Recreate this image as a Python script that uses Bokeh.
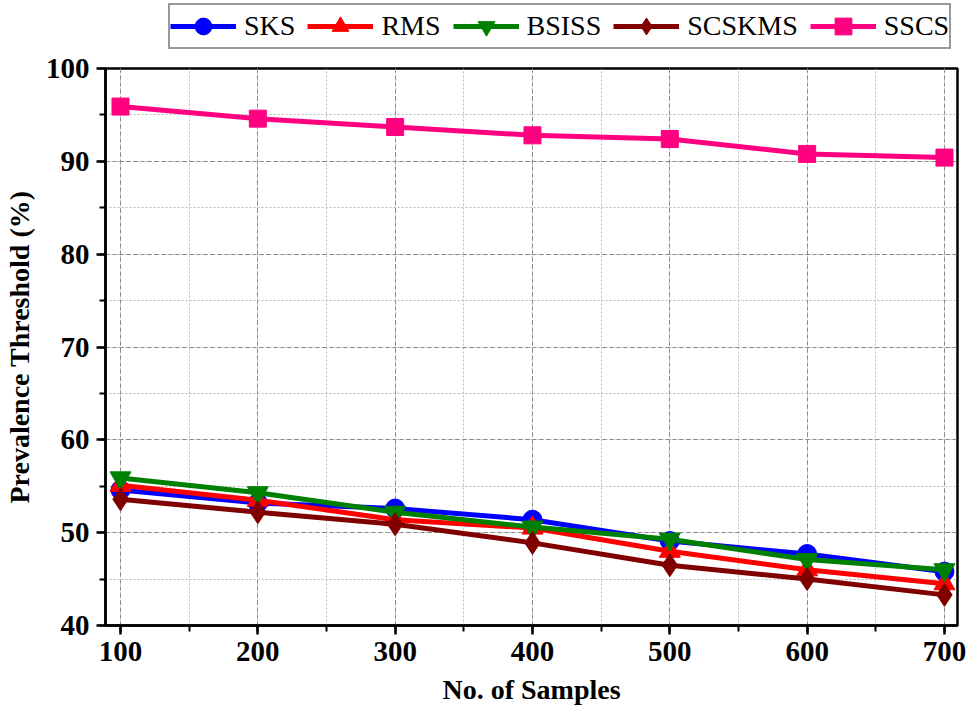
from bokeh.plotting import figure
from bokeh.layouts import column
from bokeh.models import Legend, LegendItem, SingleIntervalTicker
from bokeh.embed import file_html
from bokeh.resources import INLINE

samples = [100, 200, 300, 400, 500, 600, 700]
sks = [54.6, 53.2, 52.6, 51.4, 49.1, 47.7, 45.8]
rms = [55.1, 53.5, 51.4, 50.5, 48.0, 46.0, 44.5]
bsiss = [55.9, 54.3, 52.2, 50.6, 49.3, 47.1, 46.0]
scskms = [53.6, 52.2, 50.9, 48.9, 46.5, 45.0, 43.3]
sscs = [95.9, 94.6, 93.7, 92.8, 92.4, 90.8, 90.4]

names = ["SKS", "RMS", "BSISS", "SCSKMS", "SSCS"]
values = [sks, rms, bsiss, scskms, sscs]
colors = ["#0000ff", "#ff0000", "#008000", "#800000", "#ff0080"]
markers = ["circle", "triangle", "inverted_triangle", "diamond", "square"]
sizes = [19, 21, 21, 23, 17]

FONT = "Liberation Serif"
W = 967
H_TOP = 50
H_MAIN = 666
BL, BR = 105, 10

# ---------- legend strip (top) ----------
top = figure(width=W, height=H_TOP, output_backend="svg", toolbar_location=None,
             x_range=(0, 1), y_range=(0, 1), min_border_left=BL, min_border_right=BR,
             min_border_top=0, min_border_bottom=0)
top.axis.visible = False
top.grid.visible = False
top.outline_line_color = None
top.border_fill_color = "white"
top.background_fill_color = "white"

items = []
for name, color, marker in zip(names, colors, markers):
    l = top.line([-5, -4], [-5, -4], line_color=color, line_width=5)
    s = top.scatter([-5], [-5], marker=marker, fill_color=color, line_color=color)
    items.append(LegendItem(label=name, renderers=[l, s]))

legend = Legend(items=items, orientation="horizontal", location=(168 - BL, 1),
                label_text_font=FONT, label_text_font_size="28px", label_text_color="black",
                glyph_width=66, glyph_height=42, label_standoff=8, spacing=12,
                padding=0, margin=0, border_line_color="#333333", border_line_width=2,
                background_fill_alpha=1, label_height=38)
top.add_layout(legend, "center")

# ---------- main plot ----------
p = figure(width=W, height=H_MAIN, output_backend="svg", toolbar_location=None,
           x_range=(89.08, 709.5), y_range=(40, 100),
           min_border_left=BL, min_border_right=BR, min_border_top=18, min_border_bottom=91)

for vals, color, marker, size in zip(values, colors, markers, sizes):
    p.line(samples, vals, line_color=color, line_width=5)
    p.scatter(samples, vals, marker=marker, size=size, fill_color=color, line_color=color)

p.xaxis.ticker = SingleIntervalTicker(interval=100, num_minor_ticks=2)
p.yaxis.ticker = SingleIntervalTicker(interval=10, num_minor_ticks=2)

for ax in (p.xaxis[0], p.yaxis[0]):
    ax.axis_line_width = 2.5
    ax.axis_line_color = "black"
    ax.major_tick_line_width = 2.5
    ax.minor_tick_line_width = 2
    ax.major_tick_in = 0
    ax.major_tick_out = 9
    ax.minor_tick_in = 0
    ax.minor_tick_out = 6
    ax.major_label_standoff = 7
    ax.major_label_text_font = FONT
    ax.major_label_text_font_style = "bold"
    ax.major_label_text_font_size = "29px"
    ax.major_label_text_color = "black"
    ax.axis_label_text_font = FONT
    ax.axis_label_text_font_style = "bold"
    ax.axis_label_text_font_size = "28px"
    ax.axis_label_text_color = "black"

p.xaxis.axis_label = "No. of Samples"
p.yaxis.axis_label = "Prevalence Threshold (%)"
p.xaxis.axis_label_standoff = 10
p.yaxis.axis_label_standoff = 8

for g in (p.xgrid[0], p.ygrid[0]):
    g.grid_line_color = "#888888"
    g.grid_line_dash = "4 3"
    g.grid_line_width = 1
    g.minor_grid_line_color = "#bbbbbb"
    g.minor_grid_line_dash = "2 2"
    g.minor_grid_line_width = 1

p.outline_line_color = "black"
p.outline_line_width = 2.5
p.background_fill_color = "white"
p.border_fill_color = "white"

layout = column(top, p, spacing=0)
open("out.html", "w").write(file_html(layout, INLINE))
